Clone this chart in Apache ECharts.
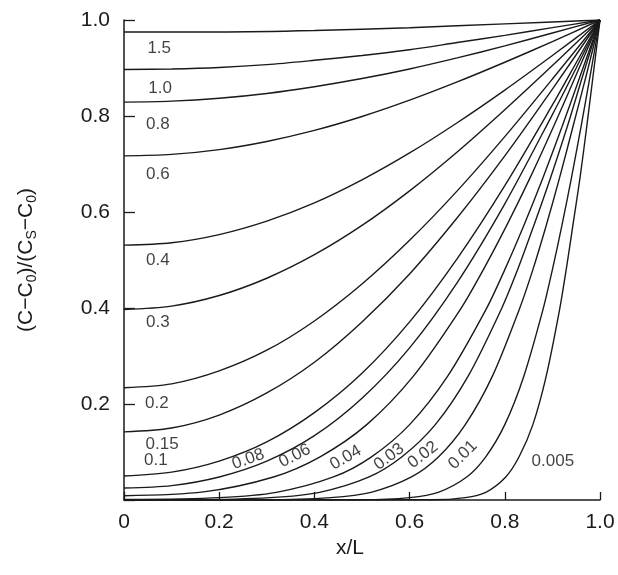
<!DOCTYPE html>
<html>
<head>
<meta charset="utf-8">
<script src="https://cdn.jsdelivr.net/npm/echarts@6/dist/echarts.min.js"></script>
<style>
  html, body { margin: 0; padding: 0; background: #fff; }
  #chart { width: 618px; height: 575px; }
</style>
</head>
<body>
<div id="chart"></div>
<script>
// Dt/L^2 values of the profiles
var times = ['1.5', '1.0', '0.8', '0.6', '0.4', '0.3', '0.2', '0.15', '0.1',
             '0.08', '0.06', '0.04', '0.03', '0.02', '0.01', '0.005'];

// profiles: [x/L, (C-C0)/(Cs-C0)]
var t1_5 = [[0, 0.975], [0.2, 0.975], [0.4, 0.978], [0.6, 0.984], [0.8, 0.992], [1, 1]];
var t1_0 = [[0, 0.897], [0.1, 0.898], [0.2, 0.901], [0.3, 0.907], [0.4, 0.916], [0.5, 0.926],
            [0.6, 0.938], [0.7, 0.953], [0.8, 0.968], [0.9, 0.984], [1, 1]];
var t0_8 = [[0, 0.829], [0.1, 0.831], [0.2, 0.837], [0.3, 0.847], [0.4, 0.861], [0.5, 0.878],
            [0.6, 0.898], [0.7, 0.921], [0.8, 0.946], [0.9, 0.973], [1, 1]];
var t0_6 = [[0, 0.717], [0.1, 0.720], [0.2, 0.730], [0.3, 0.747], [0.4, 0.770], [0.5, 0.799],
            [0.6, 0.833], [0.7, 0.871], [0.8, 0.912], [0.9, 0.955], [1, 1]];
var t0_4 = [[0, 0.531], [0.1, 0.536], [0.2, 0.553], [0.3, 0.581], [0.4, 0.619], [0.5, 0.667],
            [0.6, 0.723], [0.7, 0.786], [0.8, 0.854], [0.9, 0.926], [1, 1]];
var t0_3 = [[0, 0.397], [0.1, 0.404], [0.2, 0.426], [0.3, 0.462], [0.4, 0.511], [0.5, 0.572],
            [0.6, 0.644], [0.7, 0.725], [0.8, 0.813], [0.9, 0.905], [1, 1]];
var t0_2 = [[0, 0.234], [0.1, 0.242], [0.2, 0.269], [0.3, 0.312], [0.4, 0.373], [0.5, 0.450],
            [0.6, 0.541], [0.7, 0.644], [0.8, 0.757], [0.9, 0.877], [1, 1]];
var t0_15 = [[0, 0.142], [0.1, 0.150], [0.2, 0.177], [0.3, 0.223], [0.4, 0.287], [0.5, 0.371],
             [0.6, 0.471], [0.7, 0.588], [0.8, 0.717], [0.9, 0.856], [1, 1]];
var t0_1 = [[0, 0.050], [0.1, 0.058], [0.2, 0.081], [0.3, 0.121], [0.4, 0.182], [0.5, 0.264],
            [0.6, 0.371], [0.7, 0.503], [0.8, 0.655], [0.9, 0.823], [0.95, 0.911], [1, 1]];
var t0_08 = [[0, 0.025], [0.1, 0.030], [0.2, 0.048], [0.3, 0.081], [0.4, 0.134], [0.5, 0.212],
             [0.6, 0.317], [0.7, 0.453], [0.8, 0.617], [0.9, 0.803], [0.95, 0.900], [1, 1]];
var t0_06 = [[0, 0.009], [0.167, 0.017], [0.314, 0.048], [0.412, 0.090], [0.510, 0.157],
             [0.608, 0.258], [0.706, 0.396], [0.755, 0.480], [0.804, 0.572], [0.853, 0.671],
             [0.902, 0.777], [0.951, 0.888], [1, 1]];
var t0_04 = [[0, 0.001], [0.2, 0.005], [0.32, 0.016], [0.44, 0.048], [0.52, 0.090], [0.6, 0.157],
             [0.68, 0.258], [0.76, 0.396], [0.8, 0.480], [0.84, 0.572], [0.88, 0.671],
             [0.92, 0.777], [0.96, 0.888], [1, 1]];
var t0_03 = [[0, 0], [0.134, 0.0004], [0.307, 0.005], [0.411, 0.016], [0.515, 0.048], [0.584, 0.090],
             [0.654, 0.157], [0.723, 0.258], [0.792, 0.396], [0.827, 0.480], [0.861, 0.572],
             [0.896, 0.671], [0.931, 0.777], [0.965, 0.888], [1, 1]];
var t0_02 = [[0, 0], [0.293, 0.0004], [0.434, 0.005], [0.519, 0.016], [0.604, 0.048], [0.661, 0.090],
             [0.717, 0.157], [0.774, 0.258], [0.830, 0.396], [0.859, 0.480], [0.887, 0.572],
             [0.915, 0.671], [0.943, 0.777], [0.972, 0.888], [1, 1]];
var t0_01 = [[0, 0], [0.5, 0.0004], [0.6, 0.005], [0.66, 0.016], [0.72, 0.048], [0.76, 0.090],
             [0.8, 0.157], [0.84, 0.258], [0.88, 0.396], [0.9, 0.480], [0.92, 0.572],
             [0.94, 0.671], [0.96, 0.777], [0.98, 0.888], [1, 1]];
var t0_005 = [[0, 0], [0.646, 0.0004], [0.717, 0.005], [0.760, 0.016], [0.802, 0.048], [0.830, 0.090],
              [0.859, 0.157], [0.887, 0.258], [0.915, 0.396], [0.929, 0.480], [0.943, 0.572],
              [0.958, 0.671], [0.972, 0.777], [0.986, 0.888], [1, 1]];

var profiles = [t1_5, t1_0, t0_8, t0_6, t0_4, t0_3, t0_2, t0_15, t0_1,
                t0_08, t0_06, t0_04, t0_03, t0_02, t0_01, t0_005];

// where each curve label sits (data coords) and its slant
var labelAt = [[0.074, 0.942], [0.076, 0.858], [0.071, 0.783], [0.071, 0.679], [0.071, 0.500],
               [0.071, 0.371], [0.069, 0.202], [0.080, 0.117], [0.067, 0.083],
               [0.261, 0.085], [0.359, 0.092], [0.466, 0.088], [0.557, 0.090],
               [0.628, 0.094], [0.712, 0.094], [0.901, 0.081]];
var labelTilt = [0, 0, 0, 0, 0, 0, 0, 0, 0, 20, 27, 30, 37, 38, 45, 0];

var xTicks = [0, 0.2, 0.4, 0.6, 0.8, 1.0];
var yTicks = [0, 0.2, 0.4, 0.6, 0.8, 1.0];

var ink = '#1a1a1a';
var font = '"Liberation Sans", Arial, sans-serif';

var chart = echarts.init(document.getElementById('chart'));

var series = profiles.map(function (d, i) {
    return {
        name: times[i],
        type: 'line',
        data: d,
        smooth: 0.3,
        showSymbol: false,
        lineStyle: {color: ink, width: 1.4},
        silent: true,
        animation: false
    };
});

series.push({
    type: 'scatter',
    symbolSize: 0,
    silent: true,
    animation: false,
    data: times.map(function (t, i) {
        return {
            value: labelAt[i],
            label: {
                show: true,
                position: 'inside',
                formatter: t,
                rotate: labelTilt[i],
                color: '#111',
                fontSize: 17,
                fontFamily: font
            }
        };
    })
});

chart.setOption({
    backgroundColor: '#fff',
    grid: {left: 124, right: 18, top: 20, bottom: 75},
    xAxis: {
        type: 'value',
        min: 0, max: 1, interval: 0.2,
        name: 'x/L',
        nameLocation: 'middle',
        nameGap: 37,
        nameTextStyle: {color: ink, fontSize: 21, fontFamily: font, padding: [0, 24, 0, 0]},
        axisLine: {lineStyle: {color: ink, width: 1.5}},
        axisTick: {inside: true, length: 8, lineStyle: {color: ink, width: 1.3}},
        axisLabel: {
            color: ink, fontSize: 21, fontFamily: font, margin: 12,
            formatter: function (v) { return xTicks.indexOf(v) === 0 ? '0' : v.toFixed(1); }
        },
        splitLine: {show: false}
    },
    yAxis: {
        type: 'value',
        min: 0, max: 1, interval: 0.2,
        name: '{a|(C\u2212C}{s|0}{a|)/(C}{s|S}{a|\u2212C}{s|0}{a|)}',
        nameLocation: 'middle',
        nameGap: 85,
        nameTextStyle: {
            color: ink, fontFamily: font,
            rich: {
                a: {fontSize: 21, color: ink, fontFamily: font, lineHeight: 26},
                s: {fontSize: 14, color: ink, fontFamily: font, lineHeight: 26, padding: [12, 0, 0, 0]}
            }
        },
        axisLine: {lineStyle: {color: ink, width: 1.5}},
        axisTick: {inside: true, length: 11, lineStyle: {color: ink, width: 1.3}},
        axisLabel: {
            color: ink, fontSize: 21, fontFamily: font, margin: 14,
            formatter: function (v) { return v === yTicks[0] ? '' : v.toFixed(1); }
        },
        splitLine: {show: false}
    },
    series: series
});
</script>
</body>
</html>
